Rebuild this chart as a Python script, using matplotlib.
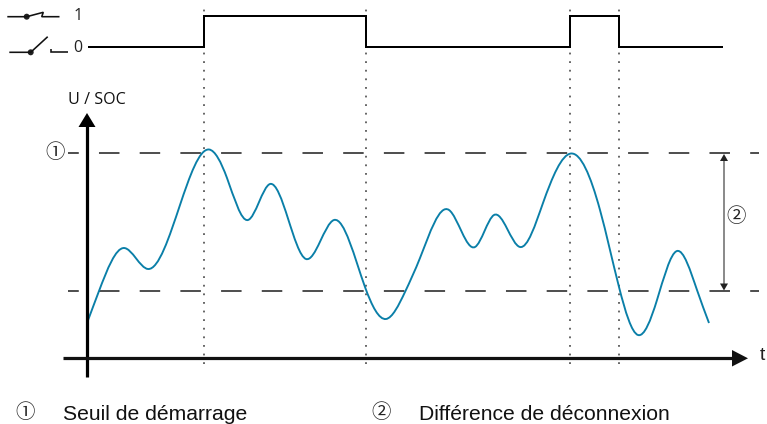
import numpy as np
import matplotlib
matplotlib.use("Agg")
import matplotlib.pyplot as plt
from matplotlib.path import Path
from matplotlib.patches import PathPatch, Polygon, Circle

plt.rcParams['lines.scale_dashes'] = False

# --- data (t and U/SOC in pixel-sized units from the origin)
curve_t = [0, 12, 37, 61, 93, 122, 140, 161, 183, 219, 247, 278, 299, 318, 333, 362,
           388, 407, 433, 456, 484, 513, 532, 551, 570, 590, 610, 622]
curve_soc = [35, 67, 110, 89, 153, 208.5, 180, 138, 174, 99, 138, 71, 39, 66, 100, 148,
             111, 143, 111, 155, 204.5, 148, 71, 23, 58, 107, 68, 35]
switch_t = [1, 117, 117, 279, 279, 483, 483, 532, 532, 636]
switch_state = [0, 0, 1, 1, 0, 0, 1, 1, 0, 0]
event_t = [117, 279, 483, 532]
start_threshold = 205
stop_threshold = 67

BLUE = '#0a7fa8'
PX = 0.72  # one pixel in points

fig = plt.figure(figsize=(7.67, 4.24), dpi=100)

# main axes: origin of t / U at pixel (87, 358)
ax = fig.add_axes([0, 0, 1, 1])
ax.set_xlim(-87, 680)
ax.set_ylim(358 - 424, 358)
ax.axis('off')

# overlay for annotations in pixel coordinates
ov = fig.add_axes([0, 0, 1, 1])
ov.set_xlim(0, 767)
ov.set_ylim(424, 0)
ov.axis('off')
ov.patch.set_alpha(0)

# switch signal axes: state 0 at y=47px, state 1 at y=16px
sw = fig.add_axes([0, 1 - 47 / 424, 1, 31 / 424])
sw.set_xlim(-87, 680)
sw.set_ylim(0, 1)
sw.axis('off')
sw.patch.set_alpha(0)
sw.plot(switch_t, switch_state, color='black', lw=2.0 * PX, clip_on=False,
        solid_joinstyle='miter', solid_capstyle='butt')

# thresholds
dash = (7.0, (20.5 * PX, 20.2 * PX))
for th in (start_threshold, stop_threshold):
    ax.plot([-19, 672], [th, th], color='#333333', lw=1.7 * PX, linestyle=dash,
            dash_capstyle='butt')

# event markers
for t in event_t:
    ax.plot([t, t], [-6, 350], color='#444444', lw=1.6 * PX,
            linestyle=(0, (1.8 * PX, 6.8 * PX)), dash_capstyle='butt')

# curve as a smooth Bezier path through the read points (C2 spline slopes)
x = np.array(curve_t, float)
y = np.array(curve_soc, float)
h = np.diff(x)
s = np.diff(y) / h
n = len(x)
A = np.zeros((n, n))
b = np.zeros(n)
A[0, 0], A[0, 1], b[0] = 2, 1, 3 * s[0]
A[-1, -1], A[-1, -2], b[-1] = 2, 1, 3 * s[-1]
for i in range(1, n - 1):
    A[i, i - 1] = h[i]
    A[i, i] = 2 * (h[i - 1] + h[i])
    A[i, i + 1] = h[i - 1]
    b[i] = 3 * (h[i] * s[i - 1] + h[i - 1] * s[i])
m = np.linalg.solve(A, b)
verts = [(x[0], y[0])]
codes = [Path.MOVETO]
for i in range(n - 1):
    verts += [(x[i] + h[i] / 3, y[i] + m[i] * h[i] / 3),
              (x[i + 1] - h[i] / 3, y[i + 1] - m[i + 1] * h[i] / 3),
              (x[i + 1], y[i + 1])]
    codes += [Path.CURVE4] * 3
ax.add_patch(PathPatch(Path(verts, codes), fill=False, edgecolor=BLUE, lw=1.9 * PX,
                       capstyle='butt', zorder=3))

# axes arrows
ov.plot([87, 87], [377, 125], color='black', lw=3.2 * PX, solid_capstyle='butt', zorder=4)
ov.add_patch(Polygon([[87, 113], [78.5, 127], [95.5, 127]], closed=True, fc='black', ec='none', zorder=4))
ov.plot([63, 734], [358.3, 358.3], color='#111111', lw=3.2 * PX, solid_capstyle='butt', zorder=4)
ov.add_patch(Polygon([[748, 358.3], [732, 350], [732, 366.5]], closed=True, fc='#111111', ec='none', zorder=4))

# difference arrow
ov.plot([724, 724], [158, 286], color='#666666', lw=1.5 * PX, solid_capstyle='butt', zorder=4)
ov.add_patch(Polygon([[724, 154], [720, 161], [728, 161]], closed=True, fc='#222222', ec='none', zorder=4))
ov.add_patch(Polygon([[724, 290.5], [720, 283.5], [728, 283.5]], closed=True, fc='#222222', ec='none', zorder=4))

# switch icons
icon = dict(color='#111111', lw=1.6 * PX, solid_capstyle='butt', solid_joinstyle='miter')
ov.plot([7.3, 26.7, 43.3, 41.7, 59.5], [16.7, 16.7, 12.3, 16.7, 16.7], **icon)
ov.add_patch(Circle((26.7, 16.7), 3.0, fc='#222222', ec='none'))
ov.plot([9.3, 30.7, 47.7], [52.3, 52.3, 36.7], **icon)
ov.add_patch(Circle((30.7, 52.3), 3.0, fc='#222222', ec='none'))
ov.plot([50.7, 50.7, 67.7], [49.3, 52.3, 52.3], **icon)

# text
sans = 'Open Sans'
arial = 'Liberation Sans'
cjk = 'Noto Sans CJK JP'
ov.text(78, 15.5, '1', fontsize=11.5, family=sans, color='#222222', ha='center', va='center')
ov.text(78, 48, '0', fontsize=11.5, family=sans, color='#222222', ha='center', va='center')
ov.text(97, 100, 'U / SOC', fontsize=11.6, family=sans, color='#111111', ha='center', va='center')
ov.text(762, 355, 't', fontsize=14, family=arial, color='#222222', ha='center', va='center')
ov.text(55, 153, '\u2460', fontsize=14, family=cjk, color='#222222', ha='center', va='center')
ov.text(736, 216, '\u2461', fontsize=14, family=cjk, color='#222222', ha='center', va='center')
ov.text(25, 413, '\u2460', fontsize=14, family=cjk, color='#222222', ha='center', va='center')
ov.text(381, 413, '\u2461', fontsize=14, family=cjk, color='#222222', ha='center', va='center')
ov.text(63, 420, 'Seuil de démarrage', fontsize=15.2, family=arial, color='#111111', ha='left', va='baseline')
ov.text(419, 420, 'Différence de déconnexion', fontsize=15.2, family=arial, color='#111111', ha='left', va='baseline')

fig.savefig('out.png', dpi=100)
